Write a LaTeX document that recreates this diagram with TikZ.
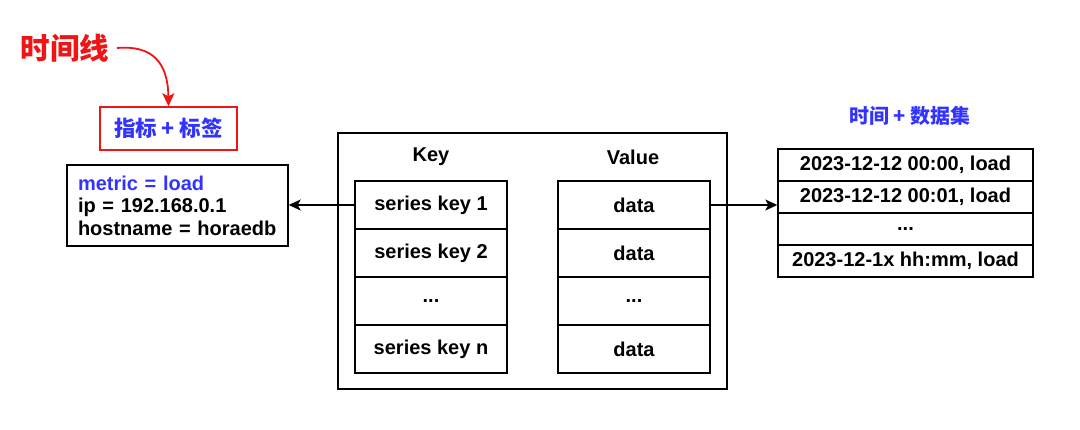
\documentclass[tikz,border=0pt]{standalone}
\usepackage{fontspec}
\setmainfont{Liberation Sans}
\newfontfamily\cjk{Noto Sans CJK SC}
\usetikzlibrary{arrows.meta}
\definecolor{myblue}{RGB}{51,51,255}
\definecolor{myred}{RGB}{240,20,20}
\begin{document}
\begin{tikzpicture}[x=1pt,y=-1pt,
  box/.style={draw=black,line width=1.4pt,inner sep=0pt,font=\fontsize{20}{22}\selectfont\bfseries},
  cell/.style={box,minimum width=152pt,minimum height=48pt},
  tcell/.style={box,minimum width=255pt,minimum height=32pt},
  lbl/.style={font=\fontsize{20}{22}\selectfont\bfseries},
  arr/.style={line width=1.3pt,-{Stealth[length=12pt,width=11pt,inset=3pt]}}]
\useasboundingbox[fill=white] (0,0) rectangle (1080,430);
% title
\node[text=myred,font=\cjk\fontsize{29.5}{31}\selectfont\bfseries] (title) at (65,48) {时间线};
\node[draw=myred,line width=1.4pt,minimum width=137pt,minimum height=43pt,inner sep=0pt,text=myblue,font=\cjk\fontsize{21.5}{23}\selectfont\bfseries] (tag) at (168.5,128.5) {指标 + 标签};
\coordinate (cstart) at (117,48);
\draw[draw=myred,line width=1.8pt,-{Stealth[length=13pt,width=12pt,inset=3pt,fill=myred]}] (cstart) .. controls (152,45) and (168,62) .. (tag.north);
% metric box
\node[box,minimum width=221pt,minimum height=81pt,align=left,text width=199pt,font=\fontsize{20}{22.5}\selectfont\bfseries] (metric) at (177.5,205.5) {\textcolor{myblue}{metric = load}\\ip = 192.168.0.1\\hostname = horaedb};
% big box
\node[box,minimum width=389pt,minimum height=256pt] (big) at (532.5,261) {};
\node[lbl] (keyh) at (431,157) {Key};
\node[lbl] (valh) at (633,157) {Value};
\node[cell] (k1) at (431,205) {series key 1};
\node[cell] (k2) at (431,253) {series key 2};
\node[cell] (k3) at (431,301) {...};
\node[cell] (k4) at (431,349) {series key n};
\node[cell] (v1) at (634,205) {data};
\node[cell] (v2) at (634,253) {data};
\node[cell] (v3) at (634,301) {...};
\node[cell] (v4) at (634,349) {data};
% right
\node[lbl,text=myblue,font=\cjk\fontsize{20}{22}\selectfont\bfseries] (tsh) at (910,116) {时间 + 数据集};
\node[tcell] (t1) at (905.5,165) {2023-12-12 00:00, load};
\node[tcell] (t2) at (905.5,197) {2023-12-12 00:01, load};
\node[tcell] (t3) at (905.5,229) {...};
\node[tcell] (t4) at (905.5,261) {2023-12-1x hh:mm, load};
% arrows
\draw[arr] (k1.west) -- (metric.east |- k1.west);
\draw[arr] (v1.east) -- (t1.west |- v1.east);
\end{tikzpicture}
\end{document}
